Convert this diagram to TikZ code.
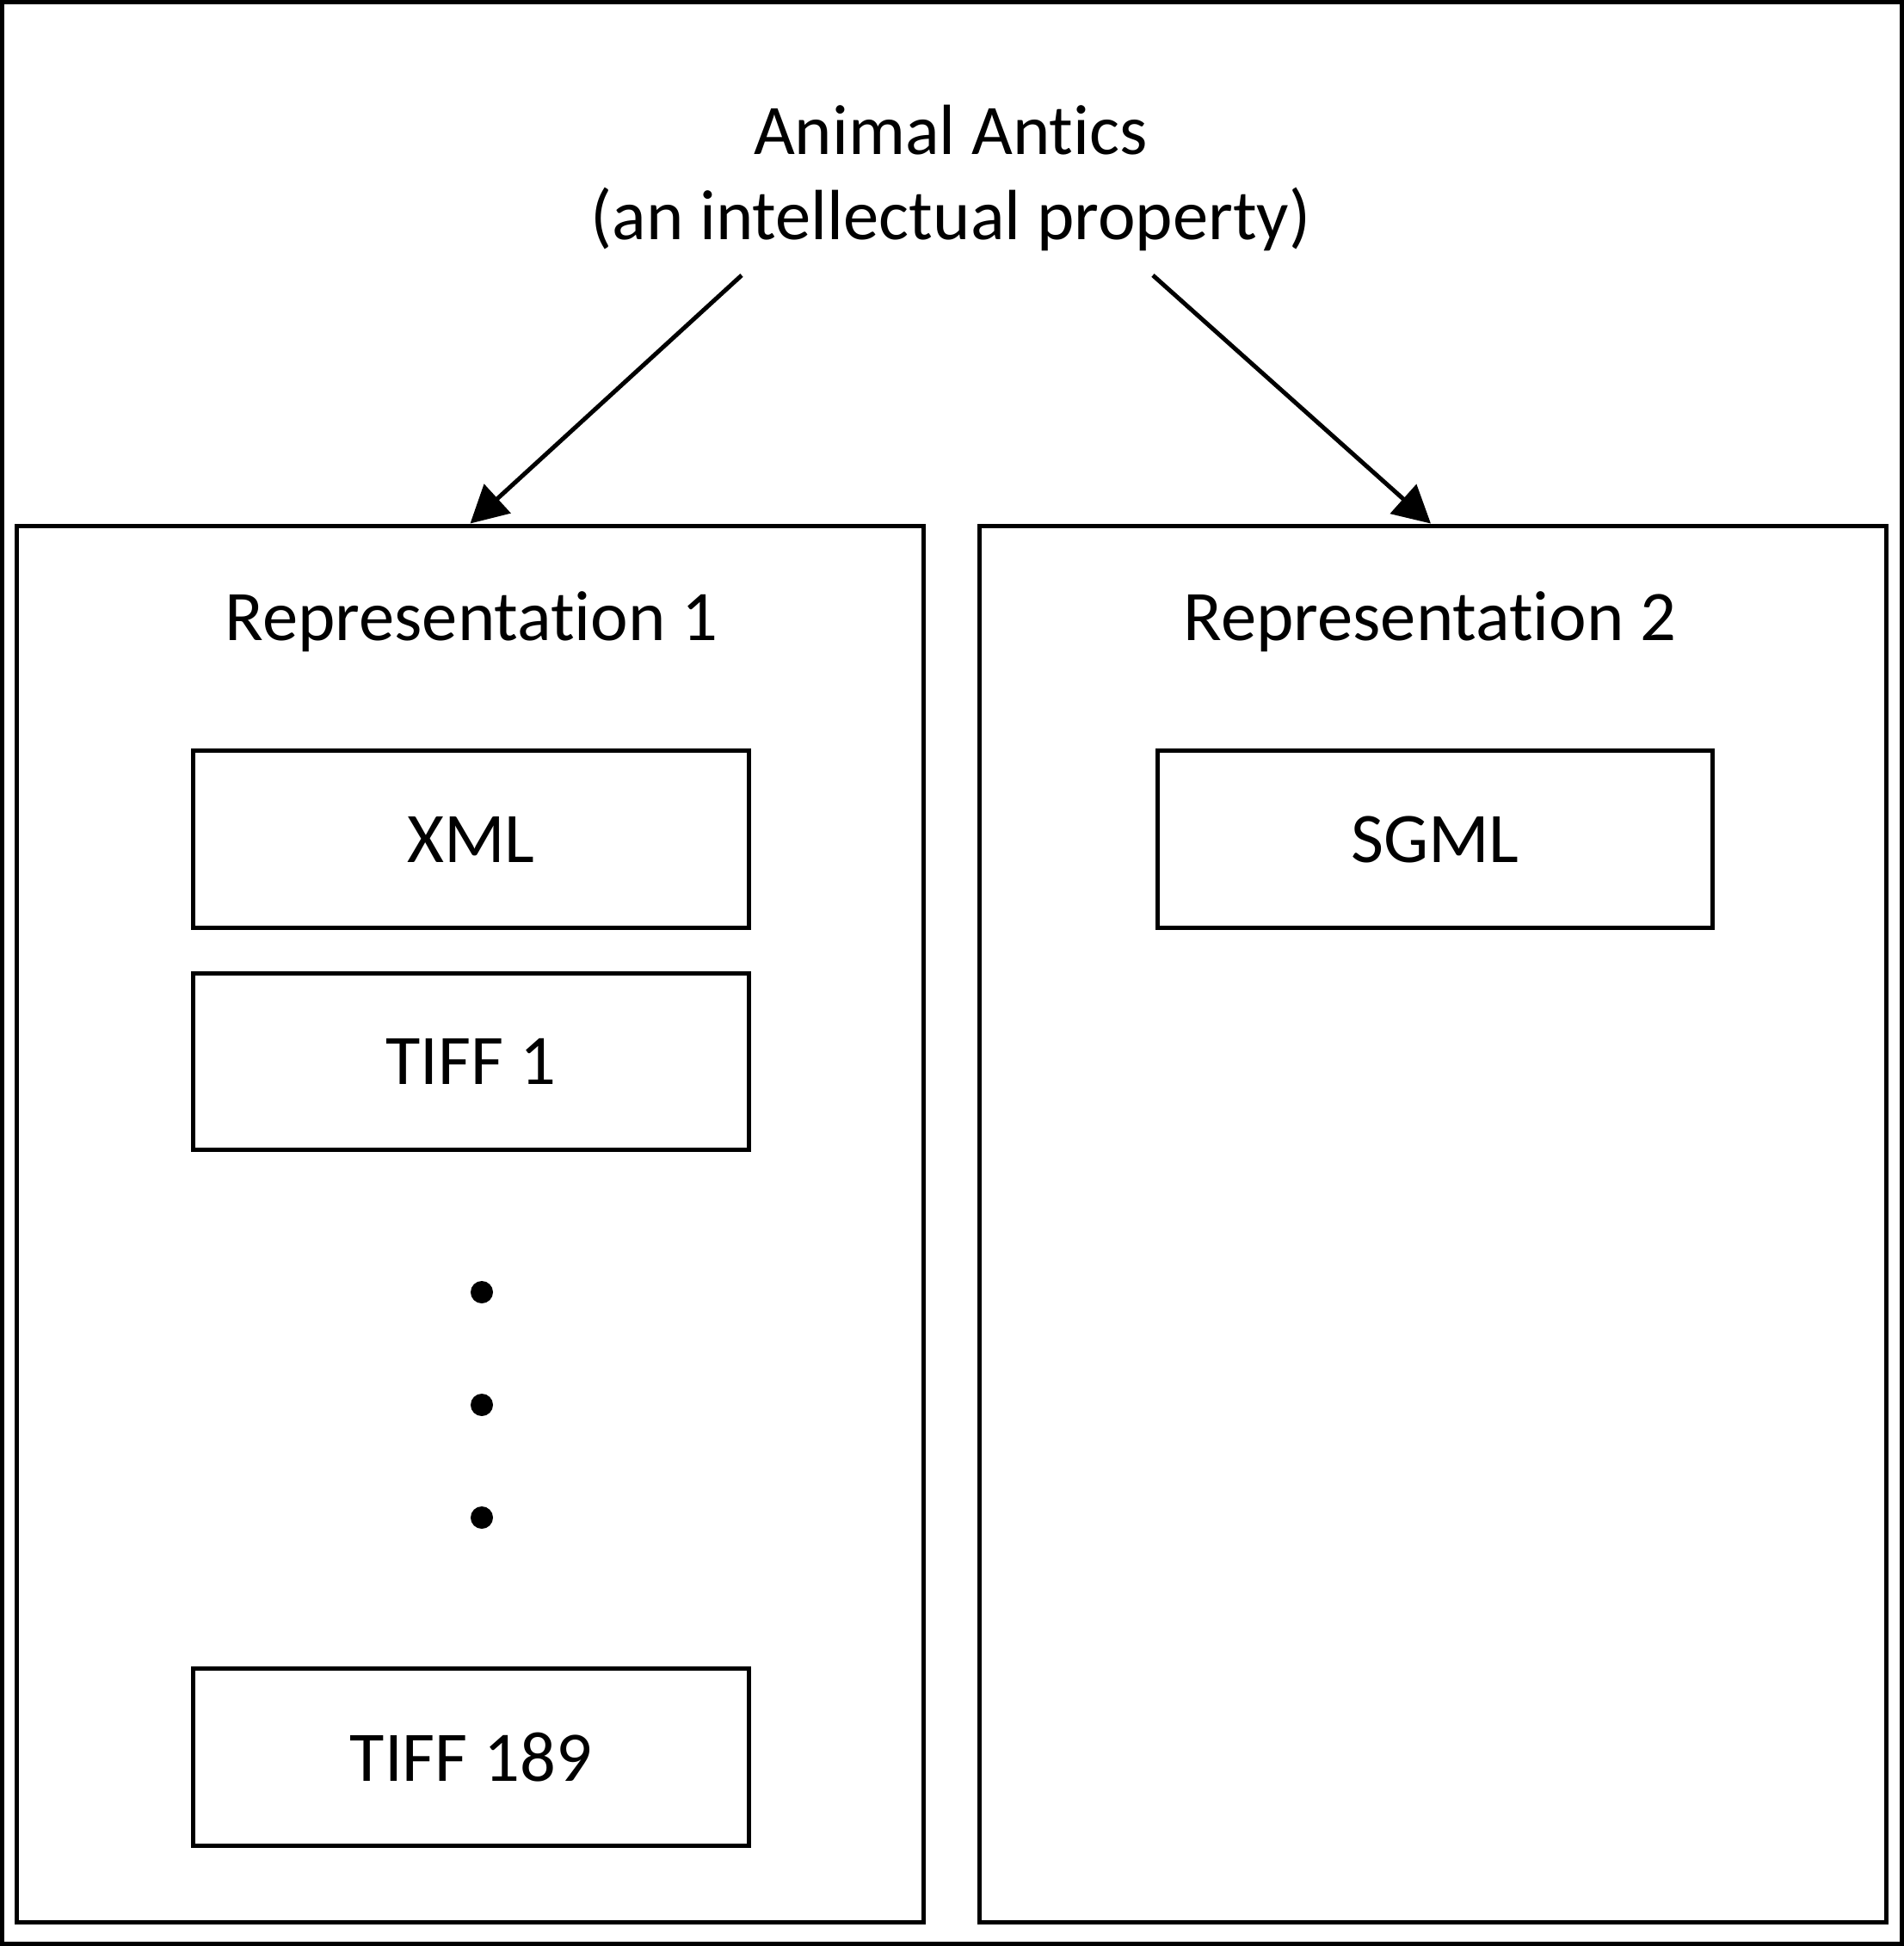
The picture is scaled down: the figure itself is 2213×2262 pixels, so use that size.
\documentclass[tikz,border=0pt]{standalone}
\usepackage{fontspec}
\setmainfont{Carlito}[Ligatures=NoCommon]
\usepackage{tikz}
\usetikzlibrary{positioning}
\usetikzlibrary{arrows.meta}

\begin{document}
\begin{tikzpicture}[x=0.01cm,y=-0.01cm,
    font=\fontsize{23.5}{28}\selectfont,
    repbox/.style={draw,line width=0.05cm,minimum width=10.53cm,minimum height=16.23cm},
    filebox/.style={draw,line width=0.05cm,minimum width=6.45cm,minimum height=2.05cm},
    arr/.style={line width=0.05cm,-{Triangle[length=0.43cm,width=0.45cm]}}]
            \useasboundingbox (0,0) rectangle (2213,2262);
            \draw[line width=0.05cm] (2.5,2.5) rectangle (2210.5,2259.5);

            % the property and its two representations
            \node[align=center] (ip) at (1105,207) {Animal Antics\\(an intellectual property)};
            \node[repbox] (rep1) at (546.5,1423) {};
            \node[repbox] (rep2) at (1665.5,1423) {};
            \node (rep1lbl) at (548,723) {Representation 1};
            \node (rep2lbl) at (1662,723) {Representation 2};

            % files
            \node[filebox] (xml) at (547.5,975.5) {XML};
            \node[filebox] (tiff1) at (547.5,1234) {TIFF 1};
            \node[filebox] (tiff189) at (547.5,2042.5) {TIFF 189};
            \node[filebox] (sgml) at (1668,975.5) {SGML};

            \foreach \y in {1502,1633,1764}
                \fill (560,\y) circle (0.13cm);

            \coordinate (from1) at (862,320);
            \coordinate (from2) at (1340,320);
            \draw[arr] (from1) -- (rep1.north);
            \draw[arr] (from2) -- ([xshift=-0.025cm]rep2.north);
    \end{tikzpicture}
\end{document}
